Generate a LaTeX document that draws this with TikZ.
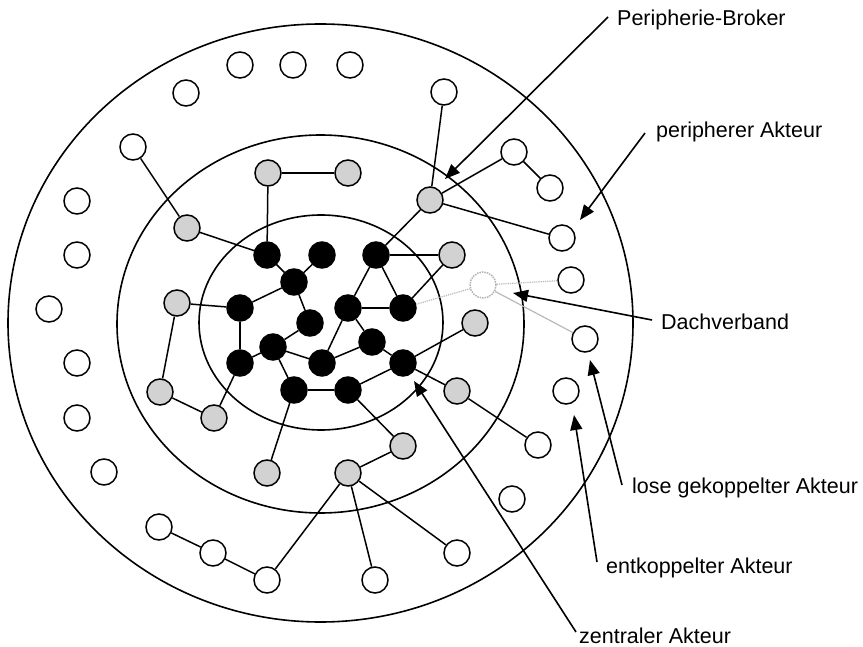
\documentclass[tikz,border=0pt]{standalone}
\usepackage{fontspec}
\setmainfont{Liberation Sans}
\usetikzlibrary{arrows.meta}
\begin{document}
\begin{tikzpicture}[x=1pt,y=-1pt,
  ring/.style={draw=black, line width=1.6pt},
  act/.style={circle, draw=black, line width=1.5pt, minimum size=26pt, inner sep=0pt},
  wnode/.style={act, fill=white},
  gnode/.style={act, fill=gray!35},
  bnode/.style={act, fill=black},
  dnode/.style={act, draw=gray!60, densely dotted, fill=white},
  edge/.style={line width=1.5pt},
  faint/.style={draw=gray!55, line width=1.2pt},
  lbl/.style={anchor=base west, inner sep=0pt, font=\fontsize{21.5}{26}\selectfont},
  arr/.style={line width=1.6pt, -{Triangle[length=15pt,width=12pt]}}
]
\useasboundingbox (0,0) rectangle (863,647);
\fill[white] (0,0) rectangle (863,647);

% rings
\draw[ring] (320.5,323) ellipse [x radius=312.5pt, y radius=299pt];
\draw[ring] (320.5,324) ellipse [x radius=203.5pt, y radius=189pt];
\draw[ring] (321,322.5) ellipse [x radius=122pt, y radius=107.5pt];

% black (central) actors
\node[bnode] (b1) at (267,255) {};
\node[bnode] (b2) at (322,255) {};
\node[bnode] (b3) at (376,255) {};
\node[bnode] (b4) at (294,282) {};
\node[bnode] (b5) at (240,308) {};
\node[bnode] (b6) at (348,308) {};
\node[bnode] (b7) at (403,308) {};
\node[bnode] (b8) at (310,323) {};
\node[bnode] (b9) at (372,342) {};
\node[bnode] (b10) at (273,347) {};
\node[bnode] (b11) at (240,363) {};
\node[bnode] (b12) at (322,363) {};
\node[bnode] (b13) at (403,363) {};
\node[bnode] (b14) at (294,390) {};
\node[bnode] (b15) at (348,390) {};

% grey actors
\node[gnode] (g1) at (268,173) {};
\node[gnode] (g2) at (348,173) {};
\node[gnode] (g3) at (187,228) {};
\node[gnode] (g4) at (177,303) {};
\node[gnode] (g5) at (430,200) {};
\node[gnode] (g6) at (452,255) {};
\node[gnode] (g7) at (475,323) {};
\node[gnode] (g8) at (160,392) {};
\node[gnode] (g9) at (214,418) {};
\node[gnode] (g10) at (267,473) {};
\node[gnode] (g11) at (348,473) {};
\node[gnode] (g12) at (403,446) {};
\node[gnode] (g13) at (457,391) {};

% white (peripheral) actors
\node[wnode] (w1) at (240,65) {};
\node[wnode] (w2) at (293,65) {};
\node[wnode] (w3) at (350,65) {};
\node[wnode] (w4) at (186,93) {};
\node[wnode] (w5) at (133,147) {};
\node[wnode] (w6) at (77,201) {};
\node[wnode] (w7) at (77,255) {};
\node[wnode] (w8) at (49,309) {};
\node[wnode] (w9) at (77,363) {};
\node[wnode] (w10) at (77,418) {};
\node[wnode] (w11) at (104,472) {};
\node[wnode] (w12) at (159,527) {};
\node[wnode] (w13) at (213,553) {};
\node[wnode] (w14) at (267,580) {};
\node[wnode] (w15) at (375,580) {};
\node[wnode] (w16) at (457,553) {};
\node[wnode] (w17) at (512,499) {};
\node[wnode] (w18) at (538,445) {};
\node[wnode] (w19) at (566,391) {};
\node[wnode] (w20) at (585,339) {};
\node[wnode] (w21) at (571,280) {};
\node[wnode] (w22) at (562,238) {};
\node[wnode] (w23) at (550,188) {};
\node[wnode] (w24) at (514,152) {};
\node[wnode] (w25) at (444,92) {};

% Dachverband (dotted)
\node[dnode] (d1) at (483,285) {};

% edges among central actors
\foreach \a/\b in {b1/b4, b2/b4, b4/b5, b4/b8, b3/b6, b3/b7, b6/b7, b6/b9, b6/b12,
  b5/b11, b11/b10, b10/b8, b10/b12, b10/b14, b12/b9, b9/b13, b14/b15, b15/b13}
  \draw[edge] (\a) -- (\b);

% other edges
\foreach \a/\b in {b1/g3, b1/g1, g1/g2, b5/g4, g4/g8, g8/g9, g9/b11, b14/g10,
  b15/g12, g12/g11, g11/w14, g11/w15, g11/w16, w14/w13, w13/w12, b3/g5, b3/g6,
  b7/g6, b13/g7, b13/g13, g13/w18, g5/w25, g5/w24, w24/w23, g5/w22, g3/w5}
  \draw[edge] (\a) -- (\b);

% faint links of the Dachverband
\draw[faint, densely dotted] (b7) -- (d1);
\draw[faint, densely dotted] (d1) -- (w21);
\draw[faint] (d1) -- (w20);

% labels
\node[lbl] (lPB) at (617,26) {Peripherie-Broker};
\node[lbl] (lPA) at (656,138) {peripherer Akteur};
\node[lbl] (lDV) at (661,330) {Dachverband};
\node[lbl] (lLG) at (632,493) {lose gekoppelter Akteur};
\node[lbl] (lEK) at (606,573) {entkoppelter Akteur};
\node[lbl] (lZA) at (579,643) {zentraler Akteur};

% arrow tails and tips
\coordinate (sPB) at (608,17);   \coordinate (tPB) at (445,179);
\coordinate (sPA) at (645,133);  \coordinate (tPA) at (580,220);
\coordinate (sDV) at (652,320);  \coordinate (tDV) at (513,293);
\coordinate (sLG) at (622,485);  \coordinate (tLG) at (590,360);
\coordinate (sEK) at (597,562);  \coordinate (tEK) at (574,415);
\coordinate (sZA) at (576,632);  \coordinate (tZA) at (414,381);

\draw[arr] (sPB) -- (tPB);
\draw[arr] (sPA) -- (tPA);
\draw[arr] (sDV) -- (tDV);
\draw[arr] (sLG) -- (tLG);
\draw[arr] (sEK) -- (tEK);
\draw[arr] (sZA) -- (tZA);
\end{tikzpicture}
\end{document}
